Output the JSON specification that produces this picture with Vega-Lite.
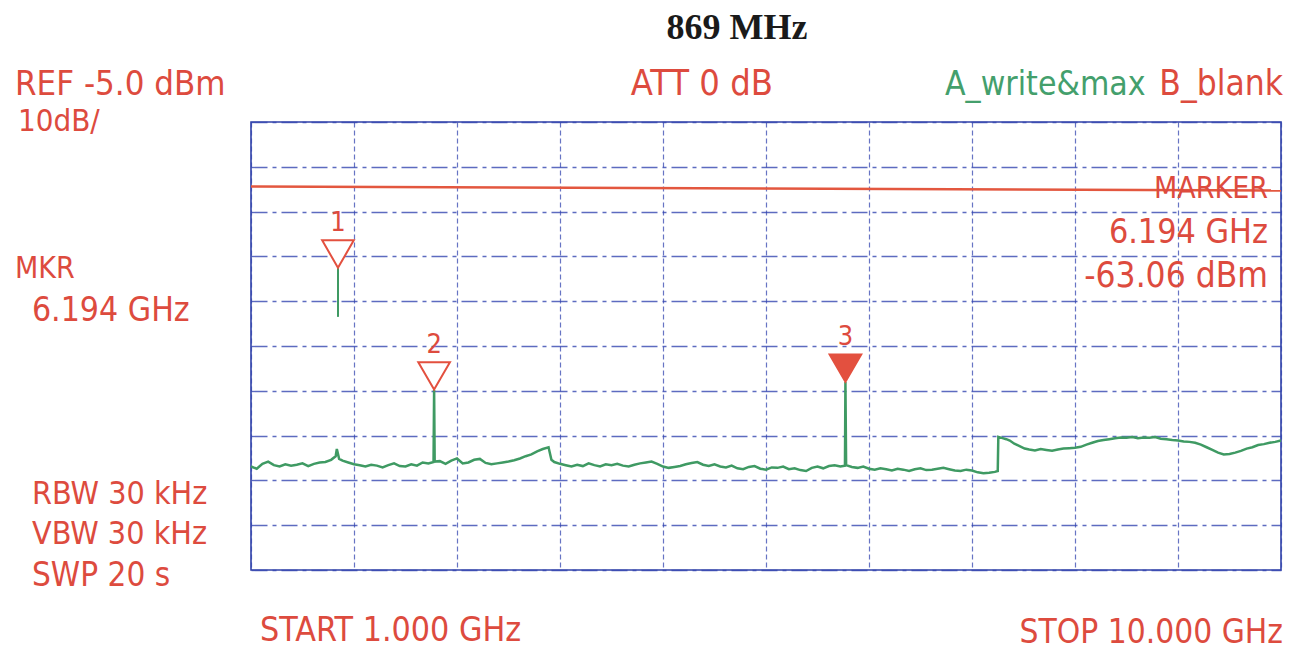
{
  "$schema": "https://vega.github.io/schema/vega-lite/v6.json",
  "width": 1030,
  "height": 448,
  "autosize": {"type": "none"},
  "padding": {"left": 251, "top": 122, "right": 9, "bottom": 82},
  "background": "white",
  "config": {
    "view": {"stroke": "#3042a8", "strokeWidth": 1.6},
    "text": {"font": "DejaVu Sans Condensed, sans-serif", "fontSize": 34, "color": "#dd4b3e", "baseline": "alphabetic"}
  },
  "datasets": {
    "trace": [
      {"f": 1.00, "dBm": -81.9}, {"f": 1.05, "dBm": -82.4}, {"f": 1.10, "dBm": -81.3}, {"f": 1.15, "dBm": -80.8},
      {"f": 1.20, "dBm": -81.6}, {"f": 1.25, "dBm": -81.9}, {"f": 1.30, "dBm": -81.4}, {"f": 1.35, "dBm": -81.7},
      {"f": 1.40, "dBm": -81.5}, {"f": 1.45, "dBm": -81.2}, {"f": 1.50, "dBm": -81.8}, {"f": 1.55, "dBm": -81.3},
      {"f": 1.60, "dBm": -81.0}, {"f": 1.65, "dBm": -80.9}, {"f": 1.70, "dBm": -80.4}, {"f": 1.74, "dBm": -79.6},
      {"f": 1.75, "dBm": -78.0}, {"f": 1.77, "dBm": -80.2}, {"f": 1.80, "dBm": -80.6}, {"f": 1.85, "dBm": -81.0},
      {"f": 1.90, "dBm": -81.4}, {"f": 1.95, "dBm": -81.6}, {"f": 2.00, "dBm": -81.9}, {"f": 2.05, "dBm": -81.5},
      {"f": 2.10, "dBm": -81.7}, {"f": 2.15, "dBm": -82.1}, {"f": 2.20, "dBm": -81.6}, {"f": 2.25, "dBm": -81.2},
      {"f": 2.30, "dBm": -81.8}, {"f": 2.35, "dBm": -81.9}, {"f": 2.40, "dBm": -81.4}, {"f": 2.45, "dBm": -81.7},
      {"f": 2.50, "dBm": -81.0}, {"f": 2.55, "dBm": -81.2}, {"f": 2.595, "dBm": -80.9}, {"f": 2.60, "dBm": -64.8},
      {"f": 2.605, "dBm": -80.8}, {"f": 2.65, "dBm": -80.7}, {"f": 2.70, "dBm": -81.3}, {"f": 2.75, "dBm": -80.6},
      {"f": 2.80, "dBm": -80.1}, {"f": 2.85, "dBm": -81.2}, {"f": 2.90, "dBm": -81.0}, {"f": 2.95, "dBm": -80.4},
      {"f": 3.00, "dBm": -80.2}, {"f": 3.05, "dBm": -81.1}, {"f": 3.10, "dBm": -81.4}, {"f": 3.15, "dBm": -81.2},
      {"f": 3.20, "dBm": -81.0}, {"f": 3.25, "dBm": -80.8}, {"f": 3.30, "dBm": -80.5}, {"f": 3.35, "dBm": -80.1},
      {"f": 3.40, "dBm": -79.6}, {"f": 3.45, "dBm": -79.2}, {"f": 3.50, "dBm": -78.5}, {"f": 3.55, "dBm": -78.0},
      {"f": 3.60, "dBm": -77.6}, {"f": 3.625, "dBm": -80.4}, {"f": 3.65, "dBm": -80.9}, {"f": 3.70, "dBm": -81.3},
      {"f": 3.75, "dBm": -81.6}, {"f": 3.80, "dBm": -81.9}, {"f": 3.85, "dBm": -81.5}, {"f": 3.90, "dBm": -81.8},
      {"f": 3.95, "dBm": -81.2}, {"f": 4.00, "dBm": -81.6}, {"f": 4.05, "dBm": -81.9}, {"f": 4.10, "dBm": -81.4},
      {"f": 4.15, "dBm": -81.6}, {"f": 4.20, "dBm": -81.3}, {"f": 4.25, "dBm": -81.7}, {"f": 4.30, "dBm": -81.9},
      {"f": 4.35, "dBm": -81.5}, {"f": 4.40, "dBm": -81.2}, {"f": 4.45, "dBm": -81.0}, {"f": 4.50, "dBm": -80.8},
      {"f": 4.55, "dBm": -81.3}, {"f": 4.60, "dBm": -81.9}, {"f": 4.65, "dBm": -82.2}, {"f": 4.70, "dBm": -82.0},
      {"f": 4.75, "dBm": -81.8}, {"f": 4.80, "dBm": -81.4}, {"f": 4.85, "dBm": -81.1}, {"f": 4.90, "dBm": -80.9},
      {"f": 4.95, "dBm": -81.5}, {"f": 5.00, "dBm": -81.8}, {"f": 5.05, "dBm": -81.4}, {"f": 5.10, "dBm": -81.9},
      {"f": 5.15, "dBm": -82.1}, {"f": 5.20, "dBm": -81.7}, {"f": 5.25, "dBm": -82.3}, {"f": 5.30, "dBm": -82.5},
      {"f": 5.35, "dBm": -82.0}, {"f": 5.40, "dBm": -81.8}, {"f": 5.45, "dBm": -82.4}, {"f": 5.50, "dBm": -82.6},
      {"f": 5.55, "dBm": -82.1}, {"f": 5.60, "dBm": -82.2}, {"f": 5.65, "dBm": -81.9}, {"f": 5.70, "dBm": -82.5},
      {"f": 5.75, "dBm": -82.3}, {"f": 5.80, "dBm": -82.7}, {"f": 5.85, "dBm": -82.9}, {"f": 5.90, "dBm": -82.2},
      {"f": 5.95, "dBm": -81.9}, {"f": 6.00, "dBm": -82.3}, {"f": 6.05, "dBm": -81.8}, {"f": 6.10, "dBm": -81.6},
      {"f": 6.15, "dBm": -81.9}, {"f": 6.19, "dBm": -81.7}, {"f": 6.194, "dBm": -63.06}, {"f": 6.20, "dBm": -81.6},
      {"f": 6.25, "dBm": -82.0}, {"f": 6.30, "dBm": -82.2}, {"f": 6.35, "dBm": -81.9}, {"f": 6.40, "dBm": -82.4},
      {"f": 6.45, "dBm": -82.6}, {"f": 6.50, "dBm": -82.3}, {"f": 6.55, "dBm": -82.5}, {"f": 6.60, "dBm": -82.8},
      {"f": 6.65, "dBm": -82.4}, {"f": 6.70, "dBm": -82.6}, {"f": 6.75, "dBm": -82.9}, {"f": 6.80, "dBm": -82.5},
      {"f": 6.85, "dBm": -82.3}, {"f": 6.90, "dBm": -82.7}, {"f": 6.95, "dBm": -82.6}, {"f": 7.00, "dBm": -82.4},
      {"f": 7.05, "dBm": -82.2}, {"f": 7.10, "dBm": -82.5}, {"f": 7.15, "dBm": -82.8}, {"f": 7.20, "dBm": -82.9},
      {"f": 7.25, "dBm": -82.6}, {"f": 7.30, "dBm": -82.8}, {"f": 7.35, "dBm": -83.2}, {"f": 7.40, "dBm": -83.4},
      {"f": 7.45, "dBm": -83.3}, {"f": 7.50, "dBm": -83.1}, {"f": 7.525, "dBm": -82.9}, {"f": 7.53, "dBm": -75.3},
      {"f": 7.56, "dBm": -75.5}, {"f": 7.60, "dBm": -75.8}, {"f": 7.63, "dBm": -76.1}, {"f": 7.67, "dBm": -76.8},
      {"f": 7.72, "dBm": -77.4}, {"f": 7.76, "dBm": -77.9}, {"f": 7.80, "dBm": -78.1}, {"f": 7.85, "dBm": -78.3},
      {"f": 7.90, "dBm": -78.0}, {"f": 7.95, "dBm": -78.2}, {"f": 8.00, "dBm": -78.4}, {"f": 8.05, "dBm": -78.1},
      {"f": 8.10, "dBm": -77.9}, {"f": 8.15, "dBm": -77.8}, {"f": 8.20, "dBm": -77.7}, {"f": 8.25, "dBm": -77.5},
      {"f": 8.30, "dBm": -77.0}, {"f": 8.35, "dBm": -76.6}, {"f": 8.40, "dBm": -76.2}, {"f": 8.45, "dBm": -76.0},
      {"f": 8.50, "dBm": -75.8}, {"f": 8.55, "dBm": -75.6}, {"f": 8.60, "dBm": -75.4}, {"f": 8.65, "dBm": -75.5},
      {"f": 8.70, "dBm": -75.3}, {"f": 8.75, "dBm": -75.6}, {"f": 8.80, "dBm": -75.4}, {"f": 8.85, "dBm": -75.5},
      {"f": 8.90, "dBm": -75.3}, {"f": 8.95, "dBm": -75.7}, {"f": 9.00, "dBm": -75.8}, {"f": 9.05, "dBm": -76.0},
      {"f": 9.10, "dBm": -76.1}, {"f": 9.15, "dBm": -76.3}, {"f": 9.20, "dBm": -76.4}, {"f": 9.25, "dBm": -76.6},
      {"f": 9.30, "dBm": -77.0}, {"f": 9.35, "dBm": -77.6}, {"f": 9.40, "dBm": -78.2}, {"f": 9.45, "dBm": -78.8},
      {"f": 9.50, "dBm": -79.2}, {"f": 9.55, "dBm": -79.1}, {"f": 9.60, "dBm": -78.8}, {"f": 9.65, "dBm": -78.4},
      {"f": 9.70, "dBm": -77.9}, {"f": 9.75, "dBm": -77.6}, {"f": 9.80, "dBm": -77.1}, {"f": 9.85, "dBm": -76.9},
      {"f": 9.90, "dBm": -76.6}, {"f": 9.95, "dBm": -76.4}, {"f": 10.00, "dBm": -76.1}
    ],
    "limit": [
      {"f": 1.0, "dBm": -19.4},
      {"f": 10.0, "dBm": -20.3}
    ],
    "spike1": [
      {"f": 1.76, "dBm": -37.6, "dBm2": -48.5}
    ],
    "markers": [
      {"marker": "1", "f": 1.76, "dBm": -37.6, "active": "no"},
      {"marker": "2", "f": 2.60, "dBm": -64.8, "active": "no"},
      {"marker": "3", "f": 6.194, "dBm": -63.06, "active": "yes"}
    ],
    "one": [{}]
  },
  "layer": [
    {
      "data": {"name": "trace"},
      "mark": {"type": "line", "color": "#3f9a63", "strokeWidth": 2.5, "interpolate": "linear"},
      "encoding": {
        "x": {
          "field": "f", "type": "quantitative",
          "scale": {"domain": [1, 10], "nice": false, "zero": false},
          "axis": {"values": [1, 1.9, 2.8, 3.7, 4.6, 5.5, 6.4, 7.3, 8.2, 9.1, 10], "grid": true, "gridColor": "#3446b0", "gridDash": [5, 3], "gridWidth": 1.2, "gridOpacity": 0.75, "labels": false, "ticks": false, "domain": false, "title": null}
        },
        "y": {
          "field": "dBm", "type": "quantitative",
          "scale": {"domain": [-105, -5], "nice": false, "zero": false},
          "axis": {"values": [-5, -15, -25, -35, -45, -55, -65, -75, -85, -95, -105], "grid": true, "gridColor": "#3446b0", "gridDash": [16, 5, 4, 5], "gridWidth": 1.4, "gridOpacity": 0.8, "labels": false, "ticks": false, "domain": false, "title": null}
        }
      }
    },
    {
      "data": {"name": "limit"},
      "mark": {"type": "line", "color": "#e3573f", "strokeWidth": 2.6},
      "encoding": {"x": {"field": "f", "type": "quantitative"}, "y": {"field": "dBm", "type": "quantitative"}}
    },
    {
      "data": {"name": "spike1"},
      "mark": {"type": "rule", "color": "#3f9a63", "strokeWidth": 2},
      "encoding": {"x": {"field": "f", "type": "quantitative"}, "y": {"field": "dBm", "type": "quantitative"}, "y2": {"field": "dBm2"}}
    },
    {
      "data": {"name": "markers"},
      "mark": {"type": "point", "shape": "triangle-down", "size": 1000, "yOffset": -14, "strokeWidth": 2, "stroke": "#e3503f", "opacity": 1},
      "encoding": {
        "x": {"field": "f", "type": "quantitative"},
        "y": {"field": "dBm", "type": "quantitative"},
        "fill": {"field": "active", "type": "nominal", "scale": {"domain": ["no", "yes"], "range": ["#ffffff", "#e3503f"]}, "legend": null}
      }
    },
    {
      "data": {"name": "markers"},
      "mark": {"type": "text", "fontSize": 27, "baseline": "middle", "align": "center", "dy": -45, "color": "#dd4b3e"},
      "encoding": {
        "x": {"field": "f", "type": "quantitative"},
        "y": {"field": "dBm", "type": "quantitative"},
        "text": {"field": "marker"}
      }
    },
    {"data": {"name": "one"}, "mark": {"type": "text", "align": "left", "fontSize": 34.5}, "encoding": {"x": {"datum": -1.062}, "y": {"datum": 1.0}, "text": {"value": "REF -5.0 dBm"}}},
    {"data": {"name": "one"}, "mark": {"type": "text", "align": "left", "fontSize": 31}, "encoding": {"x": {"datum": -1.036}, "y": {"datum": -7.0}, "text": {"value": "10dB/"}}},
    {"data": {"name": "one"}, "mark": {"type": "text", "align": "left", "fontSize": 30}, "encoding": {"x": {"datum": -1.062}, "y": {"datum": -39.8}, "text": {"value": "MKR"}}},
    {"data": {"name": "one"}, "mark": {"type": "text", "align": "left", "fontSize": 33.5}, "encoding": {"x": {"datum": -0.914}, "y": {"datum": -49.4}, "text": {"value": "6.194 GHz"}}},
    {"data": {"name": "one"}, "mark": {"type": "text", "align": "left", "fontSize": 32}, "encoding": {"x": {"datum": -0.914}, "y": {"datum": -90.3}, "text": {"value": "RBW 30 kHz"}}},
    {"data": {"name": "one"}, "mark": {"type": "text", "align": "left", "fontSize": 32}, "encoding": {"x": {"datum": -0.914}, "y": {"datum": -99.2}, "text": {"value": "VBW 30 kHz"}}},
    {"data": {"name": "one"}, "mark": {"type": "text", "align": "left", "fontSize": 33}, "encoding": {"x": {"datum": -0.914}, "y": {"datum": -108.6}, "text": {"value": "SWP 20 s"}}},
    {"data": {"name": "one"}, "mark": {"type": "text", "align": "left", "fontSize": 33.7}, "encoding": {"x": {"datum": 1.079}, "y": {"datum": -120.85}, "text": {"value": "START 1.000 GHz"}}},
    {"data": {"name": "one"}, "mark": {"type": "text", "align": "right", "fontSize": 33.2}, "encoding": {"x": {"datum": 10.017}, "y": {"datum": -121.3}, "text": {"value": "STOP 10.000 GHz"}}},
    {"data": {"name": "one"}, "mark": {"type": "text", "align": "center", "fontSize": 36}, "encoding": {"x": {"datum": 4.94}, "y": {"datum": 1.0}, "text": {"value": "ATT 0 dB"}}},
    {"data": {"name": "one"}, "mark": {"type": "text", "align": "left", "fontSize": 33.5, "color": "#449f6c"}, "encoding": {"x": {"datum": 7.064}, "y": {"datum": 1.0}, "text": {"value": "A_write&max"}}},
    {"data": {"name": "one"}, "mark": {"type": "text", "align": "right", "fontSize": 35}, "encoding": {"x": {"datum": 10.017}, "y": {"datum": 1.0}, "text": {"value": "B_blank"}}},
    {"data": {"name": "one"}, "mark": {"type": "text", "align": "right", "fontSize": 30}, "encoding": {"x": {"datum": 9.886}, "y": {"datum": -21.96}, "text": {"value": "MARKER"}}},
    {"data": {"name": "one"}, "mark": {"type": "text", "align": "right", "fontSize": 33.8}, "encoding": {"x": {"datum": 9.886}, "y": {"datum": -32.0}, "text": {"value": "6.194 GHz"}}},
    {"data": {"name": "one"}, "mark": {"type": "text", "align": "right", "fontSize": 35}, "encoding": {"x": {"datum": 9.886}, "y": {"datum": -41.8}, "text": {"value": "-63.06 dBm"}}},
    {"data": {"name": "one"}, "mark": {"type": "text", "align": "center", "font": "Liberation Serif", "fontWeight": "bold", "fontSize": 36, "color": "#1a1a1a"}, "encoding": {"x": {"datum": 5.247}, "y": {"datum": 13.53}, "text": {"value": "869 MHz"}}}
  ]
}
